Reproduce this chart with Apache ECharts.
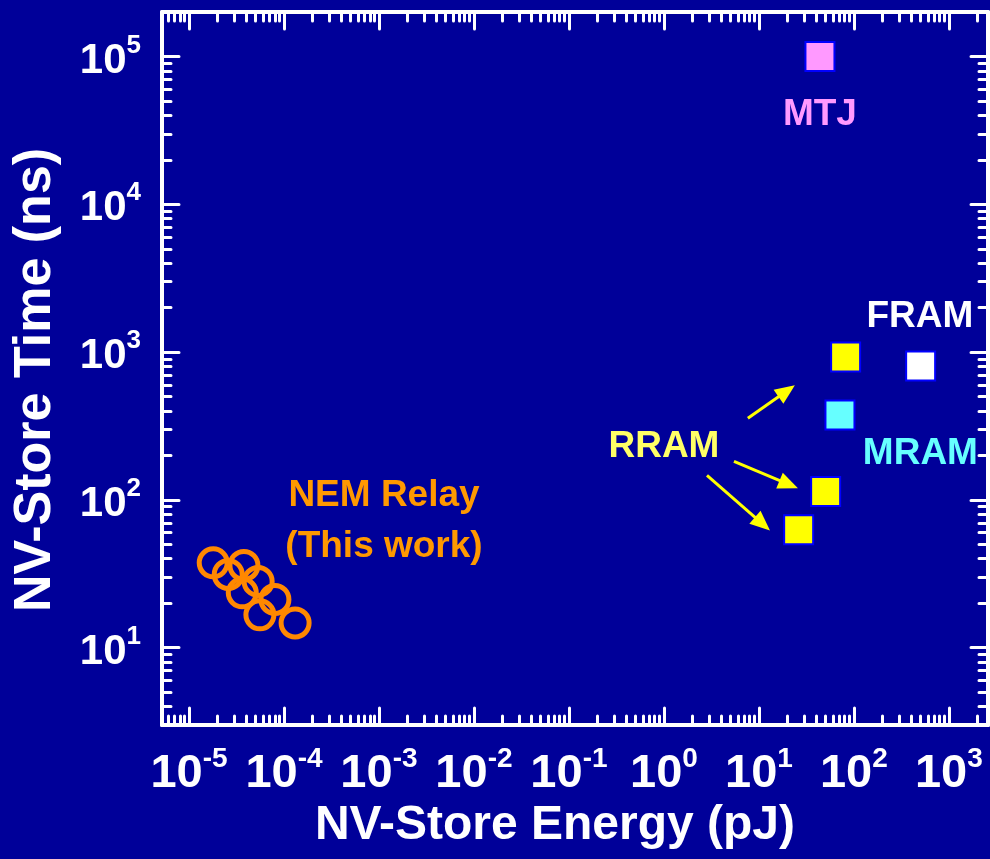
<!DOCTYPE html>
<html><head><meta charset="utf-8">
<script src="https://cdn.jsdelivr.net/npm/echarts@6/dist/echarts.min.js"></script>
<style>html,body{margin:0;padding:0;background:#000099}#c{width:990px;height:859px}</style>
</head><body><div id="c"></div>
<script>
// ---- data ----
const nemEnergy = [1.80e-5, 2.59e-5, 3.79e-5, 3.64e-5, 5.35e-5, 5.58e-5, 8.03e-5, 1.31e-4];
const nemTime   = [37.5, 31.3, 36.0, 23.5, 28.1, 16.7, 21.2, 14.7];

const techNames  = ['MTJ', 'RRAM', 'RRAM', 'RRAM', 'MRAM', 'FRAM'];
const techEnergy = [43.9, 81.8, 50.4, 26.2, 71.3, 504];
const techTime   = [1e5, 925, 114, 62.8, 376, 804];

const noteTexts  = ['MTJ', 'FRAM', 'MRAM', 'RRAM', 'NEM Relay\n(This work)'];
const noteEnergy = [43.9, 495, 501, 1.0, 1.13e-3];
const noteTime   = [40400, 1726, 206, 228.6, 71.5];

const arrowFromEnergy = [7.65, 5.46, 2.84];
const arrowFromTime   = [357, 182, 146.7];
const arrowToEnergy   = [19.6, 20.6, 10.9];
const arrowToTime     = [546, 127.2, 68.9];

const xMin = 5.2e-6, xMax = 2580;
const yMin = 3, yMax = 2e5;

// ---- styles ----
const FONT = "'Liberation Sans', Arial, Helvetica, sans-serif";
const fillColor = {MTJ:'#ff99ff', RRAM:'#ffff00', MRAM:'#66ffff', FRAM:'#ffffff'};
const textColor = {'MTJ':'#ff99ff', 'FRAM':'#ffffff', 'MRAM':'#66ffff', 'RRAM':'#ffff66', 'NEM Relay\n(This work)':'#ff9900'};

function powLabel(v){
  const e = Math.log10(v); const r = Math.round(e);
  if (Math.abs(e - r) > 1e-6) return '';
  return '{b|10}{s|' + r + '}';
}
function axisBase(){
  return {
    type:'log', logBase:10,
    splitLine:{show:false}, minorSplitLine:{show:false},
    axisLine:{onZero:false, lineStyle:{color:'#ffffff', width:4}},
    axisTick:{inside:true, length:17, lineStyle:{color:'#ffffff', width:3, cap:'round'}},
    minorTick:{show:true, splitNumber:9, length:9, lineStyle:{color:'#ffffff', width:3, cap:'round'}}
  };
}
const xBottom = Object.assign(axisBase(), {min:xMin, max:xMax, position:'bottom',
  axisLabel:{formatter:powLabel, margin:20, showMinLabel:false, showMaxLabel:false,
    rich:{b:{fontFamily:FONT, fontWeight:'bold', fontSize:47, color:'#fff'},
          s:{fontFamily:FONT, fontWeight:'bold', fontSize:28, color:'#fff', padding:[0,0,30,0]}}}});
const xTop = Object.assign(axisBase(), {min:xMin, max:xMax, position:'top', axisLabel:{show:false}});
const yLeft = Object.assign(axisBase(), {min:yMin, max:yMax, position:'left',
  axisLabel:{formatter:powLabel, margin:21, showMinLabel:false, showMaxLabel:false,
    rich:{b:{fontFamily:FONT, fontWeight:'bold', fontSize:42, color:'#fff', padding:[9,0,0,0]},
          s:{fontFamily:FONT, fontWeight:'bold', fontSize:26, color:'#fff', padding:[0,0,22,0]}}}});
const yRight = Object.assign(axisBase(), {min:yMin, max:yMax, position:'right', axisLabel:{show:false}});

const chart = echarts.init(document.getElementById('c'));
chart.setOption({
  backgroundColor:'#000099',
  animation:false,
  grid:{left:162, right:2, top:12, bottom:134},
  xAxis:[xBottom, xTop],
  yAxis:[yLeft, yRight],
  graphic:[
    {type:'text', x:555, y:826, style:{text:'NV-Store Energy (pJ)', font:'bold 48px ' + FONT, fill:'#ffffff', align:'center', verticalAlign:'middle'}},
    {type:'text', x:36, y:380, rotation:Math.PI/2, style:{text:'NV-Store Time (ns)', font:'bold 52px ' + FONT, fill:'#ffffff', align:'center', verticalAlign:'middle'}}
  ],
  series:[
    {type:'scatter', name:'NEM', xAxisIndex:0, yAxisIndex:0, symbol:'circle', symbolSize:28,
     itemStyle:{color:'rgba(0,0,0,0)', borderColor:'#ff8800', borderWidth:5, opacity:1},
     data: nemEnergy.map((x,i)=>[x, nemTime[i]]), silent:true},
    {type:'scatter', name:'tech', xAxisIndex:0, yAxisIndex:0, symbol:'rect', symbolSize:29,
     data: techEnergy.map((x,i)=>({value:[x, techTime[i]], name:techNames[i],
        itemStyle:{color:fillColor[techNames[i]], borderColor:'#0000ff', borderWidth:2, opacity:1}})), silent:true},
    {type:'scatter', name:'notes', xAxisIndex:0, yAxisIndex:0, symbolSize:0, silent:true,
     itemStyle:{opacity:1},
     data: noteTexts.map((t,i)=>({value:[noteEnergy[i], noteTime[i]], name:t,
        label:{show:true, position:'inside', formatter:'{b}', color:textColor[t], opacity:1, textBorderWidth:0,
               fontFamily:FONT, fontWeight:'bold', fontSize:37, lineHeight:51, align:'center', verticalAlign:'middle'}})),
     markLine:{silent:true, symbol:['none','triangle'], symbolSize:[17,20], label:{show:false},
       lineStyle:{color:'#ffff00', width:3, type:'solid', opacity:1},
       itemStyle:{color:'#ffff00'},
       emphasis:{disabled:true},
       data: arrowFromEnergy.map((x,i)=>[{coord:[x, arrowFromTime[i]]}, {coord:[arrowToEnergy[i], arrowToTime[i]]}])}}
  ]
});
</script></body></html>
